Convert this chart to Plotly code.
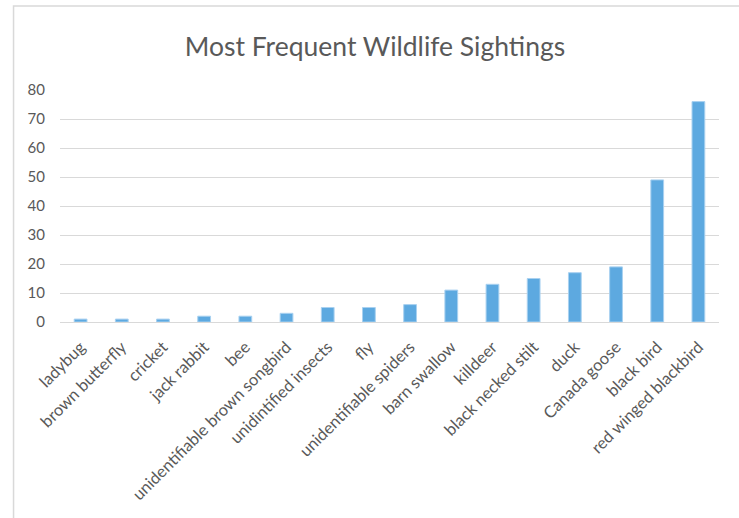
import plotly.graph_objects as go

species = [
    "ladybug", "brown butterfly", "cricket", "jack rabbit", "bee",
    "unidentifiable brown songbird", "unidintified insects", "fly",
    "unidentifiable spiders", "barn swallow", "killdeer",
    "black necked stilt", "duck", "Canada goose", "black bird",
    "red winged blackbird",
]
sightings = [1, 1, 1, 2, 2, 3, 5, 5, 6, 11, 13, 15, 17, 19, 49, 76]
y_ticks = [0, 10, 20, 30, 40, 50, 60, 70, 80]

FONT = "Lato"
GREY = "#595959"

fig = go.Figure(
    go.Bar(
        x=species,
        y=sightings,
        marker=dict(color="#5DA9E0", line=dict(color="#A9D1F0", width=1)),
        width=0.31,
    )
)

fig.update_layout(
    width=739,
    height=518,
    margin=dict(l=60, r=20, t=90, b=196),
    paper_bgcolor="white",
    plot_bgcolor="white",
    showlegend=False,
    title=dict(
        text="Most Frequent Wildlife Sightings",
        x=0.478, xanchor="center", xref="paper",
        y=0.909, yanchor="middle",
        font=dict(family=FONT, size=26.5, color=GREY),
    ),
    font=dict(family=FONT, color=GREY),
    xaxis=dict(
        tickangle=-45,
        tickfont=dict(family=FONT, size=16.5, color=GREY),
        showgrid=False,
        showline=True,
        linecolor="#D9D9D9",
        linewidth=1,
        ticks="",
        ticklabelstandoff=8,
    ),
    yaxis=dict(
        range=[0, 80],
        tickvals=y_ticks,
        tickfont=dict(family=FONT, size=15, color=GREY),
        showgrid=True,
        gridcolor="#D9D9D9",
        gridwidth=1,
        zeroline=False,
        ticks="",
        ticklabelstandoff=14,
    ),
    shapes=[
        dict(
            type="rect", xref="paper", yref="paper",
            x0=-0.0705, x1=1.2, y0=-2, y1=1.362,
            line=dict(color="#D9D9D9", width=1.5),
            fillcolor="rgba(0,0,0,0)", layer="below",
        )
    ],
)

fig.write_html("out.html")
